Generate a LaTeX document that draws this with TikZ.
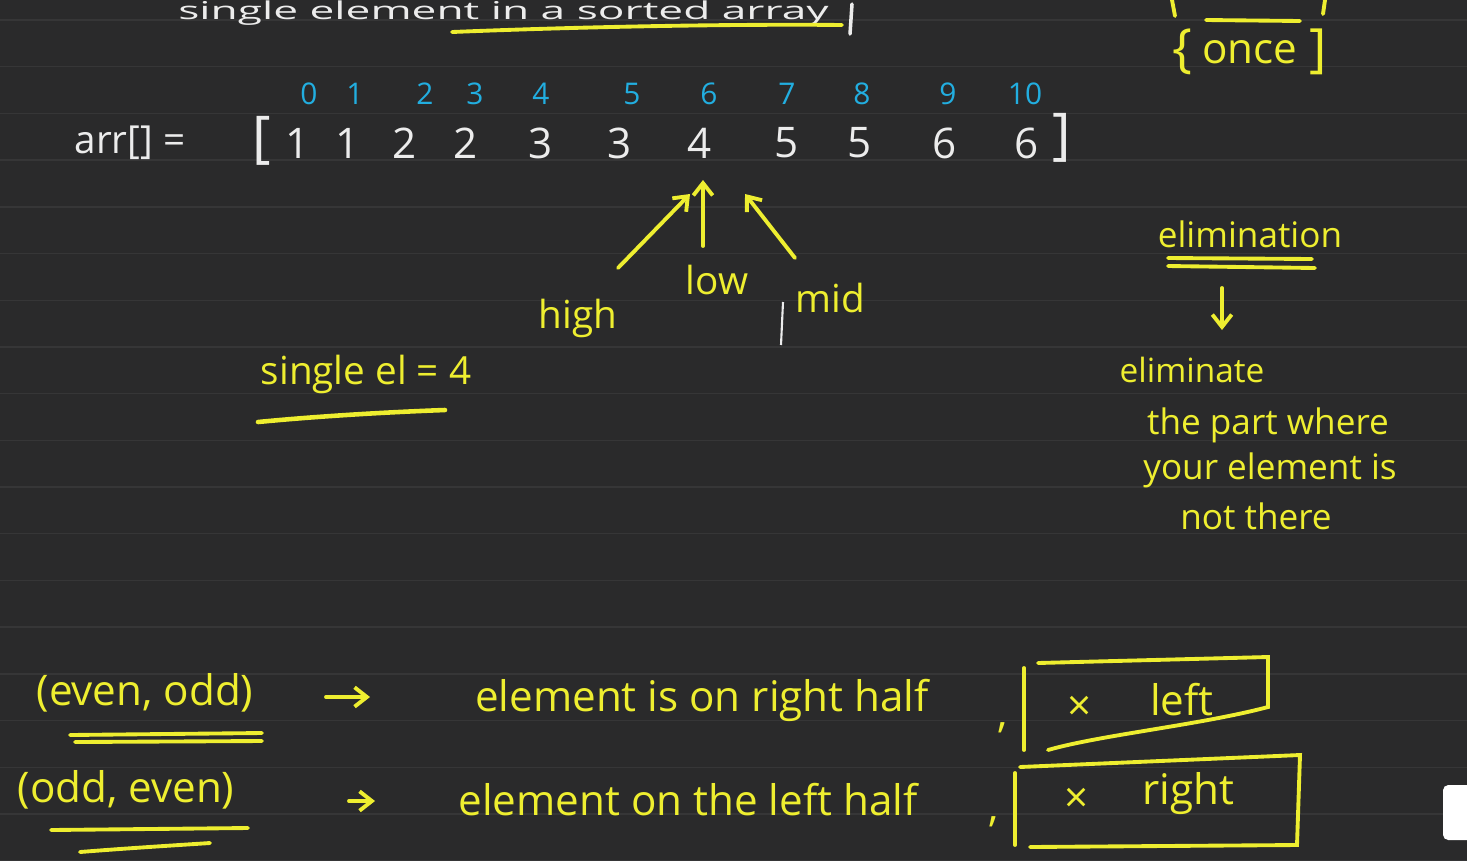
\documentclass[tikz,border=0pt]{standalone}
\usepackage{fontspec}
\setmainfont{Open Sans}
\usetikzlibrary{arrows.meta}
\definecolor{bg}{HTML}{2A2A2B}
\definecolor{yel}{HTML}{EEEE30}
\definecolor{chalk}{HTML}{ECECEC}
\definecolor{cy}{HTML}{22AEE0}
\definecolor{rulec}{HTML}{363637}
\newcommand\hfs[1]{\fontsize{#1}{#1}\selectfont}
\begin{document}
\begin{tikzpicture}[x=0.02cm,y=-0.02cm,
  yt/.style={text=yel,inner sep=0},
  wt/.style={text=chalk,inner sep=0},
  ix/.style={text=cy,inner sep=0,font=\hfs{17}},
  val/.style={text=chalk,inner sep=0,font=\hfs{24}},
  ys/.style={draw=yel,line width=2.2pt,line cap=round},
  yarrow/.style={ys,-{Straight Barb[length=7pt,width=11pt]}},
]
\fill[bg] (0,0) rectangle (1467,860);
\useasboundingbox (0,0) rectangle (1467,860);
\clip (0,0) rectangle (1467,860);
\foreach \k in {0,...,18} \draw[rulec,line width=0.8pt] (0,20+46.7*\k) -- (1467,20+46.7*\k);

% top title
\node[wt,font=\hfs{14},anchor=base west] (title) at (178,19) {\scalebox{1.8}[1]{single element in a sorted array}};
\draw[chalk,line width=2pt,line cap=round] (852,4) -- (850,34);
\coordinate (tl1) at (452,32); \coordinate (tl2) at (842,25);
\draw[ys] (tl1) .. controls (600,26) and (750,24) .. (tl2);

% top right { once }
\draw[ys] (1172,0) -- (1175,16);
\draw[ys] (1325,0) -- (1323,14);
\coordinate (ol1) at (1206,20); \coordinate (ol2) at (1300,21);
\draw[ys] (ol1) -- (ol2);
\node[yt,font=\hfs{30}] (ob1) at (1182,52) {\{};
\node[yt,font=\hfs{24}] (once) at (1250,52) {once};
\node[yt,font=\hfs{30}] (ob2) at (1318,52) {]};

% indices
\foreach \i/\x in {0/309,1/355,2/425,3/475,4/541,5/632,6/709,7/787,8/862,9/948,10/1025}
  \node[ix] (i\i) at (\x,94) {\i};

% array
\node[wt,font=\hfs{22}] (arr) at (130,143) {arr[] =};
\node[wt,font=\hfs{32}] (lb) at (262,141) {[};
\foreach \v/\x/\n in {1/298/0,1/348/1,2/405/2,2/466/3,3/541/4,3/620/5,4/700/6,5/787/7,5/860/8,6/945/9,6/1027/10}
  \node[val] (v\n) at (\x,143) {\v};
\node[wt,font=\hfs{32}] (rb) at (1062,138) {]};

% pointers
\node[yt,font=\hfs{22}] (high) at (578,318) {high};
\node[yt,font=\hfs{22}] (low) at (717,280) {low};
\node[yt,font=\hfs{22}] (mid) at (830,298) {mid};
\draw[chalk,line width=1.2pt] (783,302) -- (781,345);
\coordinate (hs) at (618,268); \coordinate (ht) at (690,194);
\coordinate (ls) at (703,246); \coordinate (lt) at (703,180);
\coordinate (ms) at (795,258); \coordinate (mt) at (745,194);
\draw[yarrow] (hs) -- (ht);
\draw[yarrow] (ls) -- (lt);
\draw[yarrow] (ms) -- (mt);

% single el = 4
\node[yt,font=\hfs{22}] (single) at (366,374) {single el = 4};
\coordinate (su1) at (258,422); \coordinate (su2) at (445,410);
\draw[ys,line width=2.6pt] (su1) .. controls (320,416) and (390,412) .. (su2);

% elimination block
\node[yt,font=\hfs{20}] (elim) at (1250,234) {elimination};
\draw[ys] (1168,258) -- (1312,259);
\draw[ys] (1168,266) -- (1315,268);
\coordinate (ea) at (1222,288);
\node[yt,font=\hfs{19}] (e1) at (1192,370) {eliminate};
\draw[yarrow] (ea) -- (1222,330);
\node[yt,font=\hfs{20}] (e2) at (1268,425) {the part where};
\node[yt,font=\hfs{20}] (e3) at (1270,470) {your element is};
\node[yt,font=\hfs{20}] (e4) at (1256,516) {not there};

% row 1
\node[yt,font=\hfs{24}] (eo) at (145,693) {(even, odd)};
\draw[ys] (70,735) -- (262,733);
\draw[ys] (75,742) -- (262,741);
\coordinate (a1s) at (326,697);
\node[yt,font=\hfs{24}] (r1) at (702,700) {element is on right half};
\draw[yarrow] (a1s) -- (370,697);
\node[yt,font=\hfs{24}] (c1) at (1003,728) {,};
\node[yt,font=\hfs{24}] (x1) at (1080,708) {×};
\node[yt,font=\hfs{24}] (left) at (1182,700) {left};
\draw[ys] (1024,668) -- (1024,750);
\draw[ys] (1038,663) -- (1268,657) -- (1268,707) .. controls (1200,725) and (1100,735) .. (1048,750);

% row 2
\node[yt,font=\hfs{24}] (oe) at (126,790) {(odd, even)};
\draw[ys] (51,830) -- (248,828);
\draw[ys] (80,852) .. controls (130,848) and (180,845) .. (210,843);
\coordinate (a2s) at (349,801);
\node[yt,font=\hfs{24}] (r2) at (688,800) {element on the left half};
\draw[yarrow] (a2s) -- (375,801);
\node[yt,font=\hfs{24}] (c2) at (994,822) {,};
\node[yt,font=\hfs{24}] (x2) at (1077,800) {×};
\node[yt,font=\hfs{24}] (right) at (1188,794) {right};
\draw[ys] (1015,773) -- (1015,845);
\draw[ys] (1020,767) -- (1300,755) -- (1297,845) -- (1030,847);

% UI widget
\fill[white,rounded corners=3pt] (1443,785) rectangle (1475,840);
\end{tikzpicture}
\end{document}
